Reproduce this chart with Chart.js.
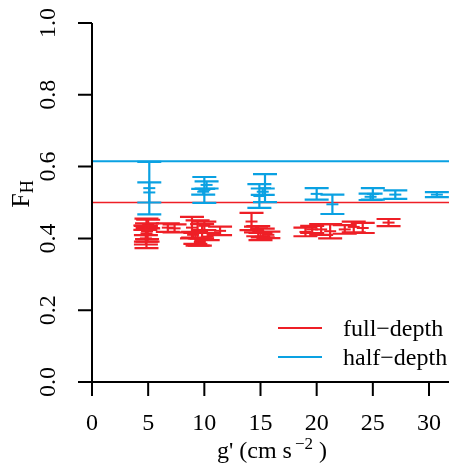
<!DOCTYPE html>
<html>
<head>
<meta charset="utf-8">
<script src="https://cdn.jsdelivr.net/npm/chart.js@4/dist/chart.umd.min.js"></script>
<style>
  html, body { margin: 0; padding: 0; background: #ffffff; }
  #wrap { width: 449px; height: 474px; }
</style>
</head>
<body>
<div id="wrap"><canvas id="c" width="449" height="474"></canvas></div>
<script>
// Axis ticks
const xTicks = [0, 5, 10, 15, 20, 25, 30];
const yTicks = [0, 0.2, 0.4, 0.6, 0.8, 1.0];
const yTickLabels = ['0.0', '0.2', '0.4', '0.6', '0.8', '1.0'];
const seriesNames = ['full\u2212depth', 'half\u2212depth'];

// full-depth runs: g', F_H and its uncertainty
const fullX   = [4.85, 4.9, 4.8, 4.95, 4.8, 5.0, 4.75, 6.75, 7.35, 8.9, 9.4, 9.8, 9.2, 10.0, 9.6, 9.0, 10.3, 11.4,
                 14.2, 14.8, 15.2, 14.6, 15.7, 15.0, 19.0, 19.6, 20.4, 21.2, 22.5, 23.3, 24.1, 26.4];
const fullY   = [0.414, 0.420, 0.409, 0.410, 0.400, 0.440, 0.430, 0.430, 0.428, 0.430, 0.415, 0.420, 0.400, 0.435, 0.390, 0.410, 0.405, 0.421,
                 0.447, 0.420, 0.415, 0.425, 0.410, 0.405, 0.418, 0.425, 0.425, 0.420, 0.425, 0.432, 0.429, 0.444];
const fullErr = [0.041, 0.022, 0.026, 0.019, 0.009, 0.012, 0.006, 0.012, 0.011, 0.030, 0.035, 0.020, 0.015, 0.012, 0.010, 0.008, 0.010, 0.012,
                 0.024, 0.014, 0.012, 0.008, 0.009, 0.010, 0.012, 0.010, 0.015, 0.020, 0.012, 0.015, 0.014, 0.010];

// half-depth runs
const halfX   = [5.1, 5.1, 10.0, 10.2, 9.9, 15.4, 14.9, 15.2, 20.0, 21.4, 25.0, 24.8, 27.0, 30.7];
const halfY   = [0.540, 0.528, 0.535, 0.549, 0.530, 0.540, 0.518, 0.530, 0.524, 0.495, 0.524, 0.516, 0.522, 0.522];
const halfErr = [0.073, 0.028, 0.036, 0.010, 0.008, 0.039, 0.033, 0.009, 0.016, 0.027, 0.016, 0.009, 0.012, 0.007];

// theoretical reference levels
const fullRef = 0.5;
const halfRef = 0.615;

const X_MAX = 31.78;
const RED = '#ee1f26';
const BLUE = '#0aa1e2';
const SERIF = '"Liberation Serif", "Times New Roman", serif';
const FS = 24;

const toPts = (xs, ys) => xs.map((x, i) => ({ x: x, y: ys[i] }));

// vertical error bars with caps
const errorBars = {
  id: 'errorBars',
  afterDatasetsDraw(chart) {
    const ctx = chart.ctx, xs = chart.scales.x, ys = chart.scales.y;
    chart.data.datasets.forEach((ds) => {
      if (!ds.errs) return;
      ctx.save();
      ctx.strokeStyle = ds.borderColor;
      ctx.lineWidth = 2.2;
      ctx.lineCap = 'butt';
      ds.data.forEach((p, i) => {
        const px = xs.getPixelForValue(p.x);
        const top = ys.getPixelForValue(p.y + ds.errs[i]);
        const bot = ys.getPixelForValue(p.y - ds.errs[i]);
        const c = 12;
        ctx.beginPath();
        ctx.moveTo(px, top); ctx.lineTo(px, bot);
        ctx.moveTo(px - c, top); ctx.lineTo(px + c, top);
        ctx.moveTo(px - c, bot); ctx.lineTo(px + c, bot);
        ctx.stroke();
      });
      ctx.restore();
    });
  }
};

// L-shaped frame, outward ticks, rotated y labels, titles and legend
const frame = {
  id: 'frame',
  afterDraw(chart) {
    const ctx = chart.ctx, xs = chart.scales.x, ys = chart.scales.y, a = chart.chartArea;
    const TL = 14;
    ctx.save();
    ctx.strokeStyle = '#000';
    ctx.fillStyle = '#000';
    ctx.lineWidth = 2;
    ctx.beginPath();
    ctx.moveTo(a.left, ys.getPixelForValue(1));
    ctx.lineTo(a.left, a.bottom);
    ctx.lineTo(a.right, a.bottom);
    xTicks.forEach(v => {
      const px = xs.getPixelForValue(v);
      ctx.moveTo(px, a.bottom); ctx.lineTo(px, a.bottom + TL);
    });
    yTicks.forEach(v => {
      const py = ys.getPixelForValue(v);
      ctx.moveTo(a.left, py); ctx.lineTo(a.left - TL, py);
    });
    ctx.stroke();

    ctx.font = FS + 'px ' + SERIF;
    ctx.textAlign = 'center';
    ctx.textBaseline = 'alphabetic';
    xTicks.forEach(v => ctx.fillText(String(v), xs.getPixelForValue(v), 430));
    yTicks.forEach((v, i) => {
      ctx.save();
      ctx.translate(55, ys.getPixelForValue(v));
      ctx.rotate(-Math.PI / 2);
      ctx.fillText(yTickLabels[i], 0, 0);
      ctx.restore();
    });

    // x title: g' (cm s^-2 )
    const big = FS + 'px ' + SERIF, small = Math.round(FS * 0.7) + 'px ' + SERIF;
    const p1 = "g' (cm s", p2 = '\u22122', p3 = ' )';
    ctx.font = big; const w1 = ctx.measureText(p1).width, w3 = ctx.measureText(p3).width;
    ctx.font = small; const w2 = ctx.measureText(p2).width;
    const gap = 3;
    let x0 = 272 - (w1 + gap + w2 + w3) / 2;
    ctx.textAlign = 'left';
    ctx.font = big; ctx.fillText(p1, x0, 458);
    ctx.font = small; ctx.fillText(p2, x0 + w1 + gap, 449);
    ctx.font = big; ctx.fillText(p3, x0 + w1 + gap + w2, 458);

    // y title: F_H
    ctx.save();
    ctx.translate(29, 194);
    ctx.rotate(-Math.PI / 2);
    const yBig = (FS + 2) + 'px ' + SERIF, ySmall = Math.round((FS + 2) * 0.7) + 'px ' + SERIF;
    ctx.font = yBig; const wf = ctx.measureText('F').width;
    ctx.font = ySmall; const wh = ctx.measureText('H').width;
    const s0 = -(wf + wh) / 2;
    ctx.font = yBig; ctx.fillText('F', s0, 0);
    ctx.font = ySmall; ctx.fillText('H', s0 + wf, 4);
    ctx.restore();

    // legend
    const items = [[seriesNames[0], RED, 328], [seriesNames[1], BLUE, 357]];
    ctx.font = big;
    items.forEach(([txt, col, y]) => {
      ctx.strokeStyle = col;
      ctx.lineWidth = 2;
      ctx.beginPath(); ctx.moveTo(278, y); ctx.lineTo(322, y); ctx.stroke();
      ctx.fillStyle = '#000';
      ctx.fillText(txt, 343, y + 8);
    });
    ctx.restore();
  }
};

new Chart(document.getElementById('c'), {
  type: 'scatter',
  data: {
    datasets: [
      { label: seriesNames[0], data: toPts(fullX, fullY), errs: fullErr,
        borderColor: RED, backgroundColor: RED, pointStyle: 'line', pointRadius: 6, pointBorderWidth: 2 },
      { label: seriesNames[1], data: toPts(halfX, halfY), errs: halfErr,
        borderColor: BLUE, backgroundColor: BLUE, pointStyle: 'line', pointRadius: 6, pointBorderWidth: 2 },
      { type: 'line', label: 'ref full', data: [{ x: 0, y: fullRef }, { x: X_MAX, y: fullRef }],
        borderColor: RED, borderWidth: 1.5, pointRadius: 0 },
      { type: 'line', label: 'ref half', data: [{ x: 0, y: halfRef }, { x: X_MAX, y: halfRef }],
        borderColor: BLUE, borderWidth: 2, pointRadius: 0 }
    ]
  },
  options: {
    responsive: false,
    animation: false,
    devicePixelRatio: 1,
    layout: { autoPadding: false, padding: { left: 92, top: 23, right: 0, bottom: 92 } },
    scales: {
      x: { type: 'linear', min: 0, max: X_MAX, display: false },
      y: { type: 'linear', min: 0, max: 1, display: false }
    },
    plugins: { legend: { display: false }, tooltip: { enabled: false } },
    events: []
  },
  plugins: [errorBars, frame]
});
</script>
</body>
</html>
